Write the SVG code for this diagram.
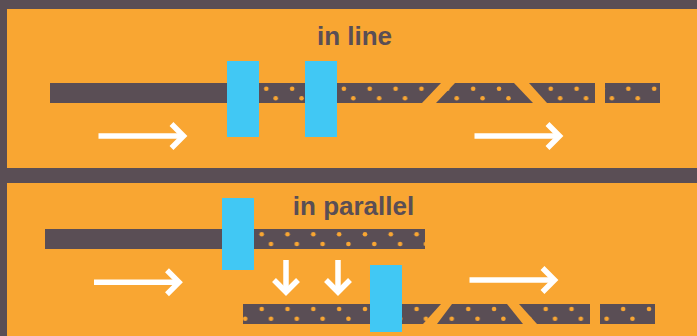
<svg xmlns="http://www.w3.org/2000/svg" width="697" height="336" viewBox="0 0 697 336">
  <style>
    .panel { fill: #F9A632; }
    .bar { fill: #5A4E55; }
    .valve { fill: #41C8F4; }
    .title { font-family: "Liberation Sans", Arial, sans-serif; font-weight: bold; font-size: 26px; fill: #5A4E55; text-anchor: middle; }
    .arrow { fill: none; stroke: #FFFFFF; stroke-width: 5.5; stroke-linejoin: miter; stroke-linecap: butt; }
    .dot { fill: #F9A632; }
  </style>
  <defs>
    <pattern id="p1" patternUnits="userSpaceOnUse" x="262.3" y="83" width="25.86" height="20">
      <rect width="25.86" height="20" fill="#5A4E55"/>
      <circle class="dot" cx="4" cy="5.7" r="2.3"/>
      <circle class="dot" cx="13.4" cy="15.3" r="2.3"/>
    </pattern>
    <pattern id="p2" patternUnits="userSpaceOnUse" x="257.7" y="229" width="25.82" height="20">
      <rect width="25.82" height="20" fill="#5A4E55"/>
      <circle class="dot" cx="4" cy="5.3" r="2.3"/>
      <circle class="dot" cx="13.3" cy="15" r="2.3"/>
    </pattern>
    <pattern id="p3" patternUnits="userSpaceOnUse" x="257.7" y="304" width="25.82" height="20">
      <rect width="25.82" height="20" fill="#5A4E55"/>
      <circle class="dot" cx="4" cy="5" r="2.3"/>
      <circle class="dot" cx="13.3" cy="14.7" r="2.3"/>
    </pattern>
    <g id="arrowR">
      <path d="M-89,0 H-5"/>
      <path d="M-16,-12 L-4,0 L-16,12"/>
    </g>
  </defs>

  <rect x="0" y="0" width="697" height="336" fill="#5A4E55"/>

  <g id="panel-inline">
    <rect class="panel" x="7" y="9" width="690" height="159"/>
    <text class="title" x="354.5" y="45">in line</text>
    <rect class="bar" x="50" y="83" width="195" height="20"/>
    <polygon points="240,83 441,83 422,103 240,103" fill="url(#p1)"/>
    <polygon points="455,83 514,83 533,103 436,103" fill="url(#p1)"/>
    <polygon points="529,83 595,83 595,103 547,103" fill="url(#p1)"/>
    <rect x="605" y="83" width="55" height="20" fill="url(#p1)"/>
  </g>
  <g id="valve-inline-1"><rect class="valve" x="227" y="61" width="32" height="76"/></g>
  <g id="valve-inline-2"><rect class="valve" x="305" y="61" width="32" height="76"/></g>

  <g id="panel-parallel">
    <rect class="panel" x="7" y="183" width="690" height="153"/>
    <text class="title" x="353.5" y="215">in parallel</text>
    <rect class="bar" x="45" y="229" width="195" height="20"/>
    <rect x="240" y="229" width="185" height="20" fill="url(#p2)"/>
    <polygon points="243,304 441,304 423,324 243,324" fill="url(#p3)"/>
    <polygon points="452,304 507,304 523,324 437,324" fill="url(#p3)"/>
    <polygon points="519,304 590,304 590,324 537,324" fill="url(#p3)"/>
    <rect x="600" y="304" width="55" height="20" fill="url(#p3)"/>
  </g>
  <g id="valve-parallel-1"><rect class="valve" x="222" y="198" width="32" height="72"/></g>
  <g id="valve-parallel-2"><rect class="valve" x="370" y="265" width="32" height="67"/></g>

  <g id="connectors" class="arrow">
    <use href="#arrowR" transform="translate(187.5,136)"/>
    <use href="#arrowR" transform="translate(563.5,136)"/>
    <use href="#arrowR" transform="translate(183,282.3)"/>
    <use href="#arrowR" transform="translate(558.5,280)"/>
    <path d="M286,260 V291"/>
    <path d="M274,280 L286,292 L298,280"/>
    <path d="M338,260 V291"/>
    <path d="M326,280 L338,292 L350,280"/>
  </g>
</svg>
